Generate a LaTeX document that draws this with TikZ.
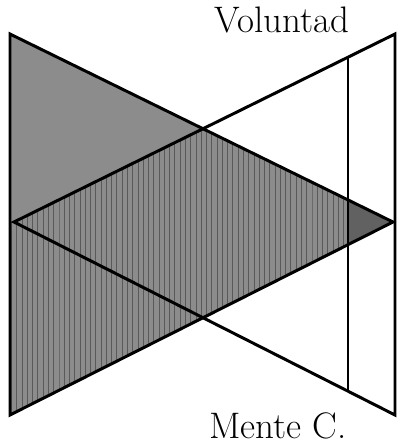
\documentclass[tikz,border=0pt]{standalone}
\usetikzlibrary{calc,patterns}
\tikzset{
  edge/.style={line width=1.7pt, line join=miter},
  grain/.style={fill=black!45},
  stripes/.style={pattern=vertical lines, pattern color=black!65},
  tip/.style={fill=black!62},
  lbl/.style={font=\fontsize{21}{24}\selectfont, anchor=base, inner sep=0pt},
}
\begin{document}
\begin{tikzpicture}[x=0.02cm, y=-0.02cm]
  \useasboundingbox (0,0) rectangle (400,444);
  % triangle pointing right
  \coordinate (lt) at (10,34);
  \coordinate (lb) at (10,415);
  \coordinate (la) at (393,222);
  % triangle pointing left
  \coordinate (rt) at (395,34);
  \coordinate (rb) at (395,415);
  \coordinate (ra) at (14,222);
  % inner upright
  \coordinate (up) at ($(rt)!{47/381}!(ra)$);
  \coordinate (dn) at ($(rb)!{47/381}!(ra)$);
  \coordinate (tu) at ($(lt)!{338/383}!(la)$);
  \coordinate (td) at ($(lb)!{338/383}!(la)$);

  \fill[grain] (lt) -- (lb) -- (la) -- cycle;
  \begin{scope}
    \clip (lt) -- (lb) -- (la) -- cycle;
    \fill[stripes] (ra) -- (rt) -- (400,444) -- (0,444) -- (0,222) -- cycle;
  \end{scope}
  \fill[tip] (tu) -- (td) -- (la) -- cycle;

  \draw[edge] (lt) -- (lb) -- (la) -- cycle;
  \draw[edge] (rt) -- (rb) -- (ra) -- cycle;
  \draw[edge] (up) -- (dn);

  \node[lbl] (vol) at (282,32) {Voluntad};
  \node[lbl] (men) at (278,438) {Mente C.};
\end{tikzpicture}
\end{document}
